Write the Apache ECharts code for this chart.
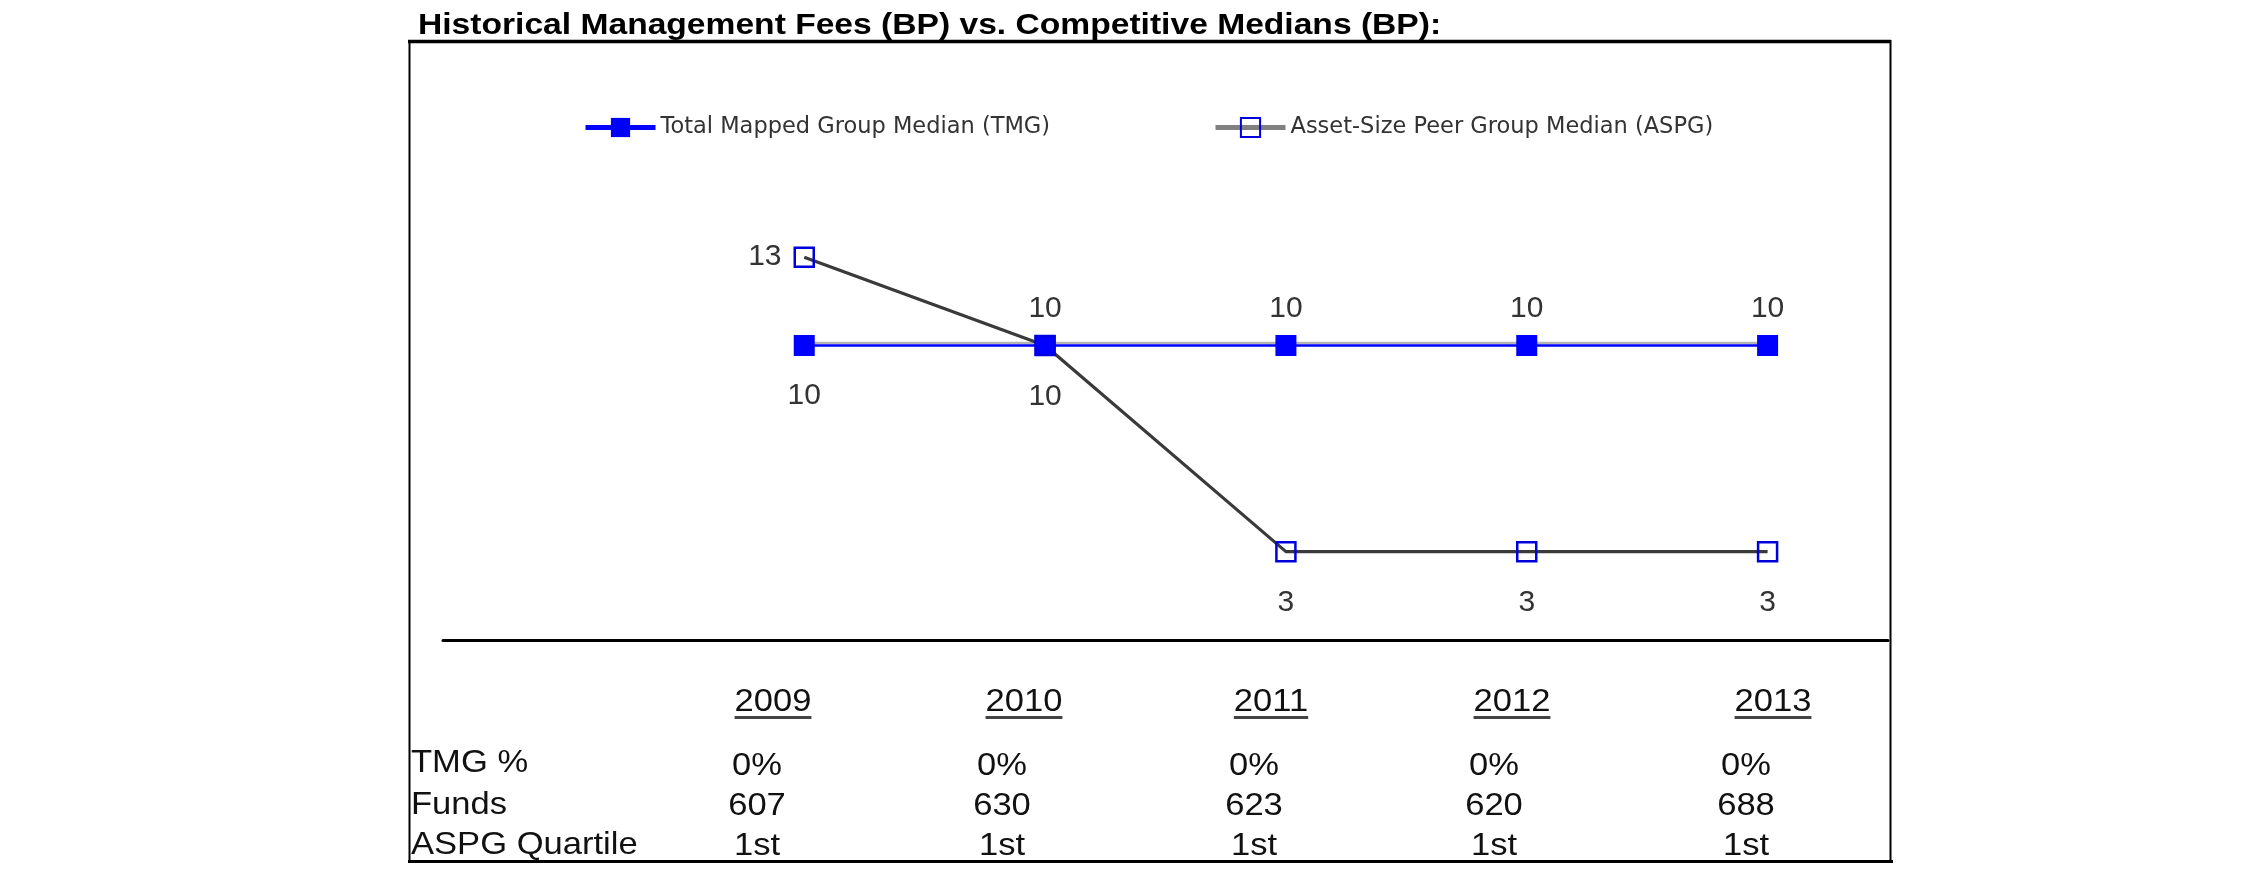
<!DOCTYPE html>
<html><head><meta charset="utf-8">
<script src="https://cdn.jsdelivr.net/npm/echarts@6/dist/echarts.min.js"></script>
<style>html,body{margin:0;padding:0;background:#fff}#c{width:2250px;height:895px}</style>
</head><body><div id="c"></div>
<script>
// ---- data ----
const titleText = 'Historical Management Fees (BP) vs. Competitive Medians (BP):';
const seriesNames = ['Total Mapped Group Median (TMG)', 'Asset-Size Peer Group Median (ASPG)'];
const years = ['2009', '2010', '2011', '2012', '2013'];
const tmgMedian = [10, 10, 10, 10, 10];
const aspgMedian = [13, 10, 3, 3, 3];
const rowLabels = ['TMG %', 'Funds', 'ASPG Quartile'];
const tmgPct = ['0%', '0%', '0%', '0%', '0%'];
const funds = ['607', '630', '623', '620', '688'];
const aspgQuartile = ['1st', '1st', '1st', '1st', '1st'];

// ---- layout ----
const FONT = '"Liberation Sans", Arial, sans-serif';
const tmgLabelPos = ['bottom', 'top', 'top', 'top', 'top'];
const aspgLabelPos = ['left', 'bottom', 'bottom', 'bottom', 'bottom'];
const yearX = [773, 1024, 1271, 1512, 1773];
const valueX = [757, 1002, 1254, 1494, 1746];
const yearY = 702, rowY = [763, 805, 845], valRowY = [766, 806, 846];
const tableScale = 1.08, tableSize = 32;

const chart = echarts.init(document.getElementById('c'), null, {renderer: 'canvas'});

function labelDist(pos, half) {
  if (pos === 'top') return 37 - half - 15;
  if (pos === 'bottom') return 50 - half - 15;
  return 12;
}

const measureCtx = document.createElement('canvas').getContext('2d');
function textW(t, size, weight) {
  measureCtx.font = (weight || 'normal') + ' ' + size + 'px "Liberation Sans", Arial';
  return measureCtx.measureText(t).width;
}

const graphics = [];
// title
graphics.push({type: 'text', x: 418, y: 26, scaleX: 1.12, silent: true,
  style: {text: titleText, fontSize: 30, fontWeight: 'bold', fontFamily: FONT, fill: '#000',
    align: 'left', verticalAlign: 'middle'}});
// frame
const frameLines = [
  [408, 41.5, 1891, 41.5, 3.5],
  [409.5, 40, 409.5, 863, 2],
  [1890.5, 40, 1890.5, 863, 2],
  [408, 861.5, 1893, 861.5, 3]
];
frameLines.forEach(l => graphics.push({type: 'line', silent: true,
  shape: {x1: l[0], y1: l[1], x2: l[2], y2: l[3]}, style: {stroke: '#000', lineWidth: l[4]}}));
// table: years with underline
years.forEach((y, i) => {
  graphics.push({type: 'text', x: yearX[i], y: yearY, scaleX: tableScale, silent: true,
    style: {text: y, fontSize: tableSize, fontFamily: FONT, fill: '#111', align: 'center', verticalAlign: 'middle'}});
  const w = textW(y, tableSize) * tableScale;
  graphics.push({type: 'line', silent: true,
    shape: {x1: yearX[i] - w / 2, y1: 717.5, x2: yearX[i] + w / 2, y2: 717.5},
    style: {stroke: '#444', lineWidth: 3}});
});
rowLabels.forEach((t, r) => {
  graphics.push({type: 'text', x: 411, y: rowY[r], scaleX: tableScale, silent: true,
    style: {text: t, fontSize: tableSize, fontFamily: FONT, fill: '#111', align: 'left', verticalAlign: 'middle'}});
});
[tmgPct, funds, aspgQuartile].forEach((row, r) => {
  row.forEach((t, i) => {
    graphics.push({type: 'text', x: valueX[i], y: valRowY[r], scaleX: tableScale, silent: true,
      style: {text: t, fontSize: tableSize, fontFamily: FONT, fill: '#111', align: 'center', verticalAlign: 'middle'}});
  });
});

const legendBase = {
  top: 116, itemWidth: 70, itemHeight: 24, itemGap: 0, padding: 0, selectedMode: false,
  textStyle: {fontFamily: '"DejaVu Sans", sans-serif', fontSize: 22.5, color: '#333'}
};

const option = {
  backgroundColor: '#fff',
  animation: false,
  legend: [
    Object.assign({}, legendBase, {left: 583, data: [seriesNames[0]], lineStyle: {width: 5, color: '#0000ff'}}),
    Object.assign({}, legendBase, {left: 1213, data: [seriesNames[1]], lineStyle: {width: 5, color: '#808080'}})
  ],
  grid: {left: 443, right: 362, top: 51, bottom: 255, containLabel: false},
  xAxis: {
    type: 'value', min: 2007.5, max: 2013.5,
    axisLine: {show: true, onZero: false, lineStyle: {color: '#000', width: 3}},
    axisTick: {show: false}, axisLabel: {show: false}, splitLine: {show: false}
  },
  yAxis: {type: 'value', min: 0, max: 20, show: false, splitLine: {show: false}},
  series: [
    {
      name: seriesNames[0], type: 'line',
      data: years.map((y, i) => ({value: [Number(y), tmgMedian[i]],
        label: {position: tmgLabelPos[i], distance: labelDist(tmgLabelPos[i], 10.5)}})),
      symbol: 'rect', symbolSize: 21,
      itemStyle: {color: '#0000ff'},
      lineStyle: {color: '#0000ff', width: 2.5, shadowColor: '#b4b4b4', shadowOffsetY: -2.5, shadowBlur: 0},
      label: {show: true, fontSize: 30, fontFamily: FONT, color: '#333', formatter: p => p.value[1]},
      emphasis: {disabled: true}
    },
    {
      name: seriesNames[1], type: 'line',
      data: years.map((y, i) => ({value: [Number(y), aspgMedian[i]],
        label: {position: aspgLabelPos[i], distance: labelDist(aspgLabelPos[i], 9.5)}})),
      symbol: 'rect', symbolSize: 19,
      itemStyle: {color: 'rgba(255,255,255,0)', borderColor: '#0000dd', borderWidth: 2.5},
      lineStyle: {color: '#3a3a3a', width: 3.2},
      label: {show: true, fontSize: 30, fontFamily: FONT, color: '#333', formatter: p => p.value[1]},
      emphasis: {disabled: true}
    }
  ],
  graphic: graphics
};
chart.setOption(option);
</script>
</body></html>
